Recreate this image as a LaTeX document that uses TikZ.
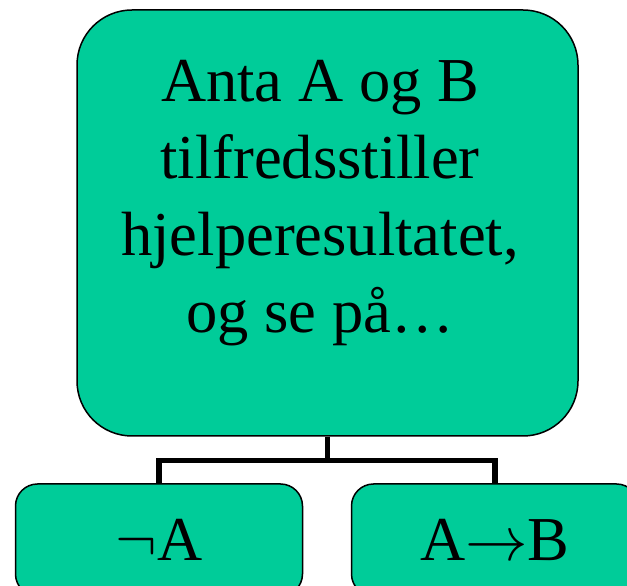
\documentclass[tikz,border=0pt]{standalone}
\usepackage{fontspec}
\setmainfont{Liberation Serif}
\usepackage{xcolor}
\definecolor{boxgreen}{RGB}{0,204,153}
% let the math symbols scale to the big text size
\DeclareFontShape{OMS}{cmsy}{m}{n}{<->cmsy10}{}

\begin{document}
\begin{tikzpicture}[x=1pt, y=1pt,
    bigbox/.style={draw=black, line width=1.5pt, fill=boxgreen, rounded corners=55pt,
        minimum width=501pt, minimum height=426pt, inner sep=0pt},
    smallbox/.style={draw=black, line width=1.5pt, fill=boxgreen, rounded corners=22pt,
        minimum width=287pt, minimum height=112pt, inner sep=0pt,
        font=\fontsize{62.5}{75}\selectfont},
    bigtext/.style={align=center, inner sep=0pt, font=\fontsize{62.5}{77}\selectfont},
    branch/.style={draw=black, line width=5.5pt}]
    % picture frame
    \clip (0,0) rectangle (627,586);
    \fill[white] (0,0) rectangle (627,586);

    % hypothesis box
    \node[bigbox] (hyp) at (327.5, 363) {};
    \node[bigtext] (hyptext) at (320, 382.7) {Anta A og B\\ tilfredsstiller\\ hjelperesultatet,\\ og se på…};

    % the two cases
    \node[smallbox] (neg) at (159, 46) {$\neg$A};
    \node[smallbox] (impl) at (495, 46) {A$\rightarrow$B};

    % tree lines
    \draw[branch] (hyp.south) -- ++(0,-24) -| (neg.north);
    \draw[branch] (hyp.south) -- ++(0,-24) -| (impl.north);
\end{tikzpicture}
\end{document}
